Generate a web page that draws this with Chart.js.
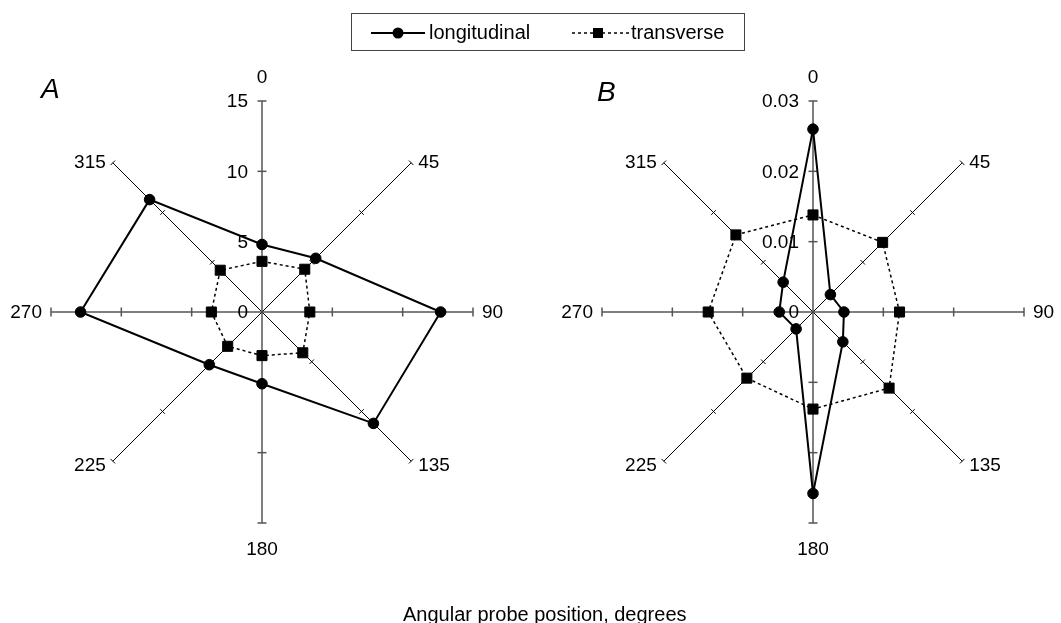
<!DOCTYPE html>
<html>
<head>
<meta charset="utf-8">
<title>Angular probe position</title>
<script src="https://cdn.jsdelivr.net/npm/chart.js@4/dist/chart.umd.min.js"></script>
<style>
  body { margin: 0; background: #fff; font-family: "Liberation Sans", Arial, sans-serif; color: #000; }
  #page { position: relative; width: 1061px; height: 623px; overflow: hidden; }
  #page canvas { position: absolute; top: 0; }
  #chartA { left: 0; }
  #chartB { left: 530px; }
  .panel { position: absolute; font-size: 28px; font-style: italic; line-height: 28px; }
  #legend { position: absolute; left: 351px; top: 13px; width: 392px; height: 36px; border: 1px solid #444; }
  #legend svg { position: absolute; left: 0; top: 0; }
  #legend span { position: absolute; top: 8px; font-size: 20px; line-height: 20px; }
  #xtitle { position: absolute; left: 403px; top: 604px; font-size: 20px; line-height: 20px; white-space: nowrap; }
</style>
</head>
<body>
<div id="page">
  <canvas id="chartA" width="530" height="623"></canvas>
  <canvas id="chartB" width="531" height="623"></canvas>
  <div class="panel" style="left:41px; top:75px;">A</div>
  <div class="panel" style="left:597px; top:78px;">B</div>
  <div id="legend">
    <svg width="392" height="36">
      <line x1="19" y1="19" x2="73" y2="19" stroke="#000" stroke-width="2"/>
      <circle cx="46" cy="19" r="5.5" fill="#000"/>
      <line x1="220" y1="19" x2="278" y2="19" stroke="#000" stroke-width="1.5" stroke-dasharray="3,3"/>
      <rect x="241" y="14" width="10" height="10" fill="#000"/>
    </svg>
    <span style="left:77px;">longitudinal</span>
    <span style="left:279px;">transverse</span>
  </div>
  <div id="xtitle">Angular probe position, degrees</div>
</div>
<script>
// probe positions around the circumference
const angles = ['0', '45', '90', '135', '180', '225', '270', '315'];

// panel A
const longitudinalA = [4.8, 5.4, 12.7, 11.2, 5.1, 5.3, 12.9, 11.3];
const transverseA = [3.6, 4.3, 3.4, 4.1, 3.1, 3.45, 3.6, 4.2];
const ticksA = [0, 5, 10, 15];
const tickLabelsA = ['0', '5', '10', '15'];

// panel B
const longitudinalB = [0.026, 0.0035, 0.0044, 0.006, 0.0258, 0.0034, 0.0048, 0.006];
const transverseB = [0.0138, 0.014, 0.0123, 0.0153, 0.0138, 0.0133, 0.0149, 0.0155];
const ticksB = [0, 0.01, 0.02, 0.03];
const tickLabelsB = ['0', '0.01', '0.02', '0.03'];

const FONT = '"Liberation Sans", Arial, sans-serif';
const AXIS_GREY = '#555';

// tick marks on every spoke, value labels on the 0 spoke, angle labels at the ends
const spokeTicks = {
  id: 'spokeTicks',
  beforeDatasetsDraw(chart, args, opts) {
    const r = chart.scales.r;
    const ctx = chart.ctx;
    const n = chart.data.labels.length;
    ctx.save();
    for (let i = 0; i < n; i++) {
      const a = r.getIndexAngle(i) - Math.PI / 2;
      const main = i % 2 === 0;
      const half = main ? 4.5 : 3.2;
      ctx.strokeStyle = main ? AXIS_GREY : '#000';
      ctx.lineWidth = main ? 1.5 : 1;
      opts.values.forEach(v => {
        if (v <= r.min) return;
        const p = r.getPointPositionForValue(i, v);
        const dx = -Math.sin(a) * half, dy = Math.cos(a) * half;
        ctx.beginPath();
        ctx.moveTo(p.x - dx, p.y - dy);
        ctx.lineTo(p.x + dx, p.y + dy);
        ctx.stroke();
      });
    }

    ctx.fillStyle = '#000';
    ctx.font = '19px ' + FONT;
    ctx.textAlign = 'right';
    ctx.textBaseline = 'middle';
    opts.values.forEach((v, k) => {
      const p = r.getPointPositionForValue(0, v);
      ctx.fillText(opts.labels[k], p.x - 14, p.y + 1);
    });

    for (let i = 0; i < n; i++) {
      const a = r.getIndexAngle(i) - Math.PI / 2;
      const c = Math.cos(a), s = Math.sin(a);
      const end = r.getPointPositionForValue(i, r.max);
      let x = end.x, y = end.y;
      if (Math.abs(c) < 0.01) {
        ctx.textAlign = 'center';
        y += (s < 0 ? -24 : 26);
      } else {
        ctx.textAlign = c > 0 ? 'left' : 'right';
        const gap = Math.abs(s) < 0.01 ? 9 : 7;
        x += (c > 0 ? gap : -gap);
        if (Math.abs(s) > 0.01) y += (s < 0 ? -1 : 4);
      }
      ctx.fillText(chart.data.labels[i], x, y + 1);
    }
    ctx.restore();
  }
};

function makeRadar(id, longitudinal, transverse, max, values, labels, padding) {
  return new Chart(document.getElementById(id), {
    type: 'radar',
    data: {
      labels: angles,
      datasets: [
        {
          label: 'longitudinal',
          data: longitudinal,
          borderColor: '#000',
          borderWidth: 2,
          fill: false,
          pointStyle: 'circle',
          pointRadius: 5.3,
          pointBackgroundColor: '#000',
          pointBorderColor: '#000',
          pointBorderWidth: 1
        },
        {
          label: 'transverse',
          data: transverse,
          borderColor: '#000',
          borderWidth: 1.5,
          borderDash: [3, 3],
          fill: false,
          pointStyle: 'rect',
          pointRadius: 7.1,
          pointBackgroundColor: '#000',
          pointBorderColor: '#000',
          pointBorderWidth: 1
        }
      ]
    },
    options: {
      responsive: false,
      animation: false,
      layout: { padding },
      elements: { line: { tension: 0 } },
      plugins: {
        legend: { display: false },
        tooltip: { enabled: false },
        spokeTicks: { values, labels }
      },
      scales: {
        r: {
          min: 0,
          max,
          ticks: { display: false, stepSize: values[1] - values[0] },
          grid: { display: false },
          pointLabels: { display: false },
          angleLines: {
            display: true,
            color: c => (c.index % 2 === 0 ? AXIS_GREY : '#000'),
            lineWidth: c => (c.index % 2 === 0 ? 1.5 : 1)
          }
        }
      }
    },
    plugins: [spokeTicks]
  });
}

makeRadar('chartA', longitudinalA, transverseA, 15, ticksA, tickLabelsA,
  { left: 51, top: 101, right: 57, bottom: 100 });
makeRadar('chartB', longitudinalB, transverseB, 0.03, ticksB, tickLabelsB,
  { left: 72, top: 101, right: 37, bottom: 100 });
</script>
</body>
</html>
